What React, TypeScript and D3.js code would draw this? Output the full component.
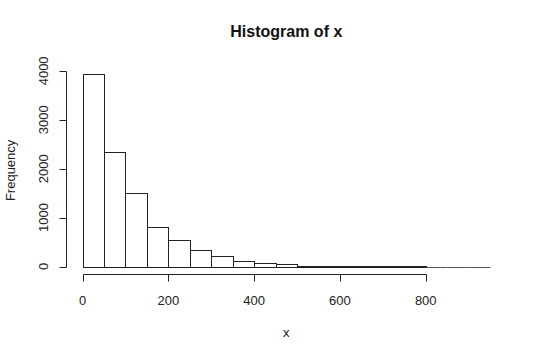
import React from "react";
import * as d3 from "d3";

const breaks = [0, 50, 100, 150, 200, 250, 300, 350, 400, 450, 500, 550, 600, 650, 700, 750, 800, 850, 900, 950];
const counts = [3930, 2340, 1495, 805, 545, 340, 215, 115, 75, 45, 16, 11, 8, 5, 3, 2, 0, 0, 0];
const xTicks = [0, 200, 400, 600, 800];
const yTicks = [0, 1000, 2000, 3000, 4000];
const title = "Histogram of x";
const xLabel = "x";
const yLabel = "Frequency";

const W = 540;
const H = 358;

export default function App() {
  const xMin = breaks[0];
  const xMax = breaks[breaks.length - 1];
  const xPad = (xMax - xMin) * 0.04;
  const yMax = d3.max(counts) as number;
  const yPad = yMax * 0.04;
  const plotL = 66.2, plotR = 506.4, plotT = 66.6, plotB = 274.2;
  const x = d3.scaleLinear().domain([xMin - xPad, xMax + xPad]).range([plotL, plotR]);
  const y = d3.scaleLinear().domain([-yPad, yMax + yPad]).range([plotB, plotT]);
  const px = (v: number) => Math.round(x(v)) + 0.5;
  const py = (v: number) => Math.round(y(v)) + 0.5;
  const font = "Liberation Sans, Arial, sans-serif";
  const stroke = "#222";
  const axisY = Math.round(plotB) + 0.5;
  const axisX = Math.round(plotL) + 0.5;
  const cx = (plotL + plotR) / 2;
  const base = py(0);

  return (
    <svg width={W} height={H} style={{ position: "absolute", left: 0, top: 0, background: "#fff" }}>
      <rect x={0} y={0} width={W} height={H} fill="#fff" />
      {counts.map((c, i) => {
        const top = py(c);
        if (base - top <= 0) {
          return (
            <line
              key={i}
              x1={px(breaks[i])}
              x2={px(breaks[i + 1])}
              y1={base}
              y2={base}
              stroke="#555"
              strokeWidth={1}
            />
          );
        }
        return (
          <rect
            key={i}
            x={px(breaks[i])}
            y={top}
            width={px(breaks[i + 1]) - px(breaks[i])}
            height={base - top}
            fill="#fff"
            stroke={stroke}
            strokeWidth={1}
          />
        );
      })}
      {/* x axis */}
      <line x1={px(xTicks[0])} x2={px(xTicks[xTicks.length - 1])} y1={axisY} y2={axisY} stroke={stroke} />
      {xTicks.map((t) => (
        <g key={t}>
          <line x1={px(t)} x2={px(t)} y1={axisY} y2={axisY + 7} stroke={stroke} />
          <text x={x(t)} y={305} textAnchor="middle" fontFamily={font} fontSize={13} fill="#222">
            {t}
          </text>
        </g>
      ))}
      {/* y axis */}
      <line x1={axisX} x2={axisX} y1={py(yTicks[0])} y2={py(yTicks[yTicks.length - 1])} stroke={stroke} />
      {yTicks.map((t) => (
        <g key={t}>
          <line x1={axisX - 7} x2={axisX} y1={py(t)} y2={py(t)} stroke={stroke} />
          <text
            transform={`translate(48,${y(t)}) rotate(-90)`}
            textAnchor="middle"
            fontFamily={font}
            fontSize={13}
            fill="#222"
          >
            {t}
          </text>
        </g>
      ))}
      <text x={cx} y={37} textAnchor="middle" fontFamily={font} fontSize={16} fontWeight="bold" fill="#111">
        {title}
      </text>
      <text x={cx} y={337} textAnchor="middle" fontFamily={font} fontSize={13} fill="#222">
        {xLabel}
      </text>
      <text
        transform={`translate(15,${(plotT + plotB) / 2}) rotate(-90)`}
        textAnchor="middle"
        fontFamily={font}
        fontSize={13}
        fill="#222"
      >
        {yLabel}
      </text>
    </svg>
  );
}
